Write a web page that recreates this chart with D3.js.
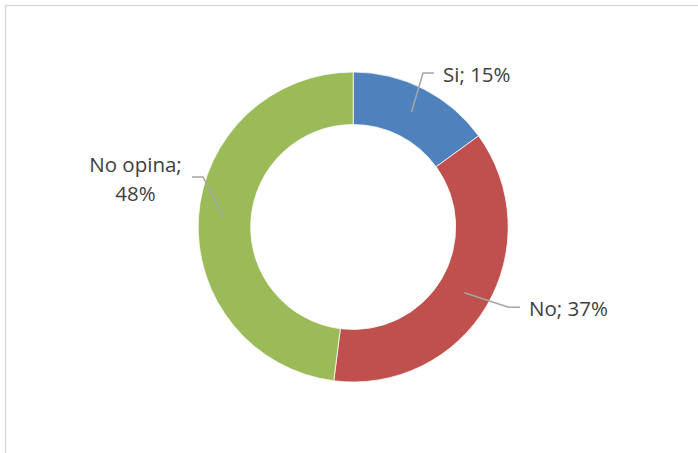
<!DOCTYPE html>
<html><head><meta charset="utf-8">
<script src="https://cdn.jsdelivr.net/npm/d3@7"></script>
<style>html,body{margin:0;padding:0;background:#fff;overflow:hidden}</style>
</head><body>
<svg id="c" width="698" height="453"></svg>
<script>
const categories = ["Si", "No", "No opina"];
const values = [15, 37, 48];
const colors = ["#4F81BD", "#C0504D", "#9BBB59"];

const svg = d3.select("#c");
svg.append("rect").attr("x", 5.5).attr("y", 5.5).attr("width", 720).attr("height", 470)
  .attr("fill", "#fff").attr("stroke", "#d9d9d9").attr("stroke-width", 1.5);

const cx = 353.2, cy = 227, R = 155, r = 102.5;
const g = svg.append("g").attr("transform", `translate(${cx},${cy})`);
const pie = d3.pie().sort(null).value(d => d)(values);
const arc = d3.arc().innerRadius(r).outerRadius(R);
g.selectAll("path").data(pie).join("path")
  .attr("d", arc).attr("fill", (d, i) => colors[i])
  .attr("stroke", "#fff").attr("stroke-width", 0.75);

// label layouts (relative to chart)
const labelLayout = [
  {lines: [categories[0] + "; " + values[0] + "%"], x: 443, y: 82, anchor: "start",
   leader: [[411.5, 112], [423, 73], [434, 73]]},
  {lines: [categories[1] + "; " + values[1] + "%"], x: 529, y: 316, anchor: "start",
   leader: [[464.5, 292.7], [508.5, 307.3], [520, 307.3]]},
  {lines: [categories[2] + ";", values[2] + "%"], x: 135.5, y: 172, anchor: "middle",
   leader: [[192, 177], [203, 177], [224, 218]]}
];
const line = d3.line();
labelLayout.forEach(L => {
  svg.append("path").attr("d", line(L.leader)).attr("fill", "none")
    .attr("stroke", "#a6a6a6").attr("stroke-width", 1.5);
  const t = svg.append("text").attr("x", L.x).attr("y", L.y)
    .attr("text-anchor", L.anchor).attr("fill", "#404040")
    .attr("font-family", "'Open Sans', sans-serif").attr("font-size", 20.5);
  L.lines.forEach((s, i) => t.append("tspan").attr("x", L.x).attr("dy", i ? 28.5 : 0).text(s));
});
</script>
</body></html>
